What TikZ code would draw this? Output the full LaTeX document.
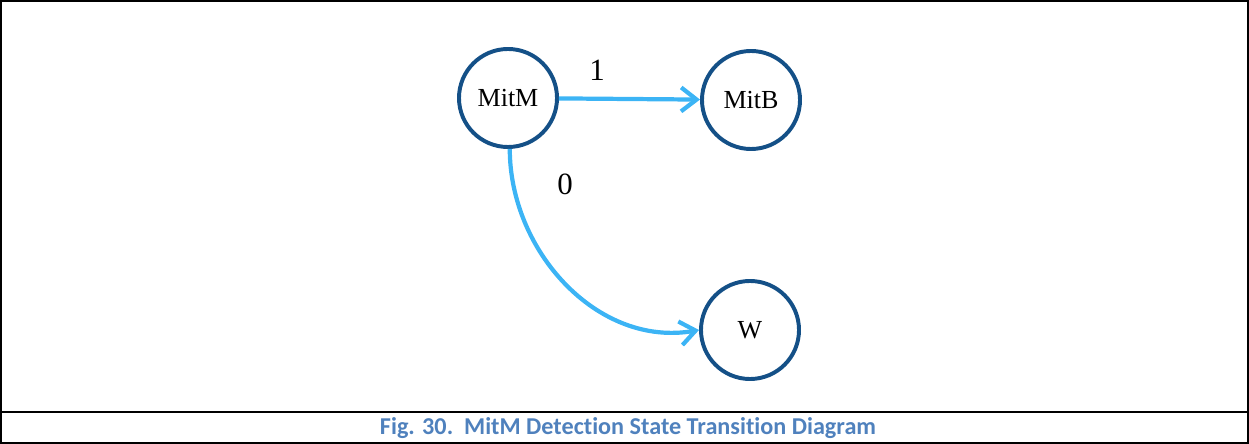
\documentclass[tikz,border=0pt]{standalone}
\usepackage{fontspec}
\setmainfont{Liberation Serif}
\newfontfamily\capfont[Ligatures={NoCommon}]{Carlito}
\usetikzlibrary{arrows.meta}
\definecolor{statered}{RGB}{20,80,135}
\definecolor{edgeblue}{RGB}{60,180,245}
\definecolor{capblue}{RGB}{79,129,189}

\begin{document}
\begin{tikzpicture}[x=0.025cm,y=-0.025cm]
\tikzstyle{state}=[draw=statered, circle, line width=2.8pt, fill=white, minimum size=2.45cm, inner sep=0pt, font=\fontsize{18.5}{22}\selectfont]
\tikzstyle{trans}=[draw=edgeblue, line width=3pt, -{Straight Barb[length=11pt,width=17pt,line width=3pt]}]
\tikzstyle{lbl}=[font=\fontsize{22}{26}\selectfont]
\useasboundingbox (0,0) rectangle (1249,444);
% frame and caption row
\draw[line width=1pt] (1,1) rectangle (1248,443);
\draw[line width=1.6pt] (1,412) -- (1248,412);
\node[text=capblue, font=\capfont\bfseries\fontsize{17.2}{20}\selectfont] (cap) at (628,428) {Fig. 30.\ \ MitM Detection State Transition Diagram};
% states
\node[state] (mitm) at (508,98) {MitM};
\node[state] (mitb) at (751,100) {MitB};
\node[state] (w) at (750,330) {W};
% transitions
\draw[trans] (mitm) -- (mitb);
\draw[trans] (mitm.-88) to[out=-90,in=190] (w.west);
\node[lbl] (one) at (597,70) {1};
\node[lbl] (zero) at (565,184) {0};
\end{tikzpicture}
\end{document}
